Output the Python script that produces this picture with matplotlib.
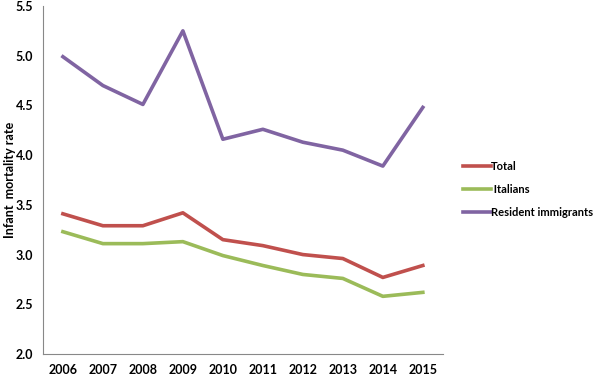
import matplotlib.pyplot as plt
import numpy as np

anos = ["2006", "2007", "2008", "2009", "2010", "2011", "2012", "2013", "2014", "2015"]
total = [3.41, 3.29, 3.29, 3.42, 3.15, 3.09, 3.00, 2.96, 2.77, 2.89]
italianos = [3.23, 3.11, 3.11, 3.13, 2.99, 2.89, 2.80, 2.76, 2.58, 2.62]
imigrantes = [4.99, 4.70, 4.51, 5.25, 4.16, 4.26, 4.13, 4.05, 3.89, 4.48]

plt.rcParams["font.family"] = ["Lato", "DejaVu Sans"]

fig = plt.figure(figsize=(5.96, 3.75), dpi=100)
ax = fig.add_axes([0.072, 0.056, 0.671, 0.928])

x = np.arange(len(anos))
ax.plot(x, total, color="#C0504D", linewidth=2.6, label="Total")
ax.plot(x, italianos, color="#9BBB59", linewidth=2.6, label=" Italians")
ax.plot(x, imigrantes, color="#8064A2", linewidth=2.6, label="Resident immigrants")

ax.set_xlim(-0.5, 9.5)
ax.set_ylim(2.0, 5.5)
ax.set_yticks(np.arange(2.0, 5.51, 0.5))
ax.set_yticklabels([f"{v:.1f}" for v in np.arange(2.0, 5.51, 0.5)])
ax.set_xticks(x)
ax.set_xticklabels(anos)
ax.tick_params(length=0, labelsize=9, pad=7)
for lab in ax.get_xticklabels() + ax.get_yticklabels():
    lab.set_fontweight("bold")

for lado in ["top", "right"]:
    ax.spines[lado].set_visible(False)
ax.spines["left"].set_color("#888888")
ax.spines["bottom"].set_color("#888888")

ax.set_ylabel("Infant  mortality rate", fontsize=9, fontweight="bold",
              va="center", ha="center")
ax.yaxis.set_label_coords(-0.083, 0.5)

fig.legend(loc="upper left", bbox_to_anchor=(0.76, 0.598), frameon=False,
           handlelength=2.5, handletextpad=0.0, labelspacing=1.1,
           prop={"size": 8, "weight": "bold"})

fig.savefig("out.png", dpi=100)
plt.close()
